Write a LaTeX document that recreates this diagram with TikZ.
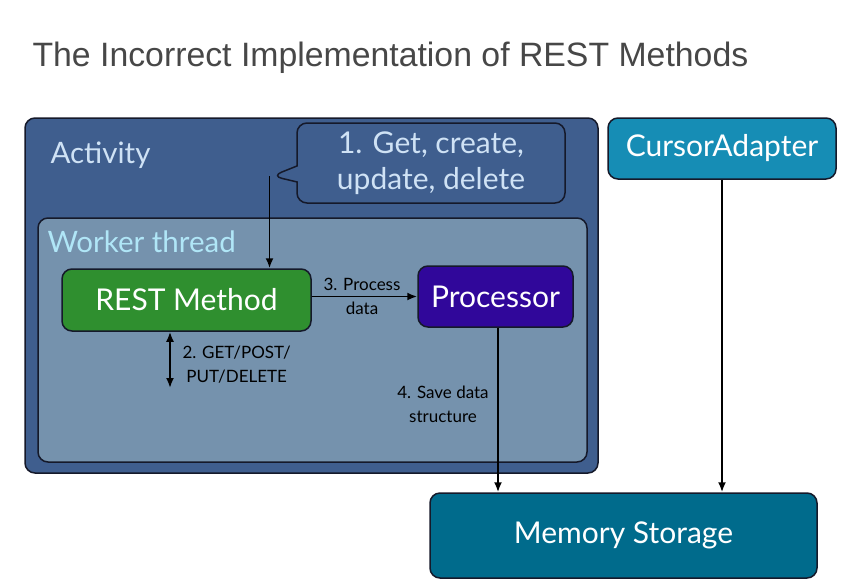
\documentclass[tikz,border=0pt]{standalone}
\usepackage{fontspec}
\setmainfont{Lato}
\newfontfamily\titlefont{Liberation Sans}
\usepackage{xcolor}
\usetikzlibrary{arrows.meta,shapes.callouts}

\definecolor{activityblue}{HTML}{3F5E8E}
\definecolor{workerblue}{HTML}{7592AD}
\definecolor{restgreen}{HTML}{2F8F2F}
\definecolor{procpurple}{HTML}{30079A}
\definecolor{cursorteal}{HTML}{168DB5}
\definecolor{memteal}{HTML}{006B8C}
\definecolor{labelblue}{HTML}{CFE2F5}
\definecolor{borderdark}{HTML}{15192A}

\begin{document}
\begin{tikzpicture}[x=1pt,y=-1pt,
  box/.style={draw=borderdark,line width=1.5pt,rounded corners=10pt,inner sep=0pt},
  boxtext/.style={text=white,font=\fontsize{30}{34}\selectfont},
  steptext/.style={align=center,font=\fontsize{17}{24}\selectfont},
  arr/.style={line width=1.9pt,-{Latex[length=10pt,width=8pt]}}]
\useasboundingbox (0,0) rectangle (851,587);

\node[anchor=west,text=black!72,font=\titlefont\fontsize{33.8}{36}\selectfont] (title) at (29,58)
  {The Incorrect Implementation of REST Methods};

\node[box,fill=activityblue,minimum width=573pt,minimum height=355pt] (activity) at (311.5,295.5) {};
\node[anchor=west,text=labelblue,font=\fontsize{29.5}{32}\selectfont] (activitylbl) at (47,155) {Activity};

\node[box,fill=workerblue,minimum width=549pt,minimum height=244pt] (worker) at (312.5,340) {};
\node[anchor=west,text=labelblue!85!cyan,font=\fontsize{29.5}{32}\selectfont] (workerlbl) at (44,242) {Worker thread};

\node[rectangle callout,box,fill=activityblue,minimum width=268pt,minimum height=80pt,
  callout absolute pointer={(272,176)},callout pointer width=16pt,
  boxtext,font=\fontsize{30}{36}\selectfont,text=labelblue,align=center] (callout) at (431,163)
  {1. Get, create,\\update, delete};

\node[box,fill=restgreen,minimum width=249pt,minimum height=62pt,boxtext] (rest) at (186.5,300) {REST Method};
\node[box,fill=procpurple,minimum width=155pt,minimum height=61pt,boxtext] (proc) at (495.5,296.5) {Processor};
\node[box,fill=cursorteal,minimum width=228pt,minimum height=61pt,boxtext] (cursor) at (722,148.5) {CursorAdapter};
\node[box,fill=memteal,minimum width=387pt,minimum height=85pt,boxtext] (mem) at (623.5,535.5) {Memory Storage};

\draw[arr] (callout.pointer) -- (callout.pointer |- rest.north);
\draw[arr] (rest.east |- proc.west) -- (proc.west);
\node[steptext] (step3) at (362,296) {3. Process\\data};

\coordinate (httpend) at (170,388);
\draw[line width=1.9pt,{Latex[length=10pt,width=8pt]}-{Latex[length=10pt,width=8pt]}] (httpend |- rest.south) -- (httpend);
\node[steptext,anchor=west] (step2) at (179,365) {2. GET/POST/\\PUT/DELETE};

\draw[arr] (proc.south -| 498,0) -- (mem.north -| 498,0);
\node[steptext] (step4) at (443,404) {4. Save data\\structure};

\draw[arr] (cursor.south) -- (cursor.south |- mem.north);
\end{tikzpicture}
\end{document}
